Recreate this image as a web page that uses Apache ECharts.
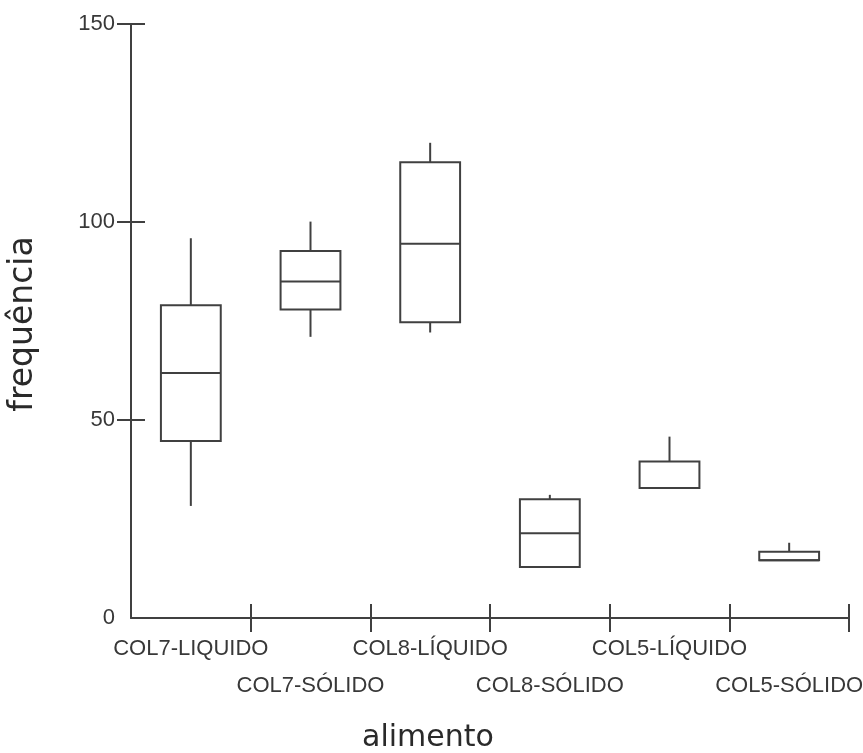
<!DOCTYPE html>
<html>
<head>
<meta charset="utf-8">
<title>frequência por alimento</title>
<script src="https://cdn.jsdelivr.net/npm/echarts@6/dist/echarts.min.js"></script>
<style>
  html, body { margin: 0; padding: 0; background: #ffffff; }
  #chart { width: 863px; height: 753px; }
</style>
</head>
<body>
<div id="chart"></div>
<script>
// Food types on the x axis
const categories = ['COL7-LIQUIDO', 'COL7-SÓLIDO', 'COL8-LÍQUIDO', 'COL8-SÓLIDO', 'COL5-LÍQUIDO', 'COL5-SÓLIDO'];

// Five-number summary of the frequency per food type
const minimum = [28.3, 71.0, 72.1, 12.9, 32.8, 14.6];
const lowerQuartile = [44.7, 77.9, 74.7, 12.9, 32.8, 14.6];
const median = [61.9, 85.0, 94.5, 21.4, 32.8, 14.6];
const upperQuartile = [79.0, 92.7, 115.1, 30.0, 39.5, 16.7];
const maximum = [95.9, 100.1, 120.0, 31.1, 45.8, 19.0];

// Value axis ticks
const yTickLabels = [0, 50, 100, 150];
const yTickMarks = [50, 100, 150];

const INK = '#404040';
const TEXT = '#383838';
const TITLE = '#2a2a2a';
const LABEL_FONT = 'Liberation Sans';
const TITLE_FONT = 'DejaVu Sans';

const boxData = categories.map((c, i) => [i, minimum[i], lowerQuartile[i], median[i], upperQuartile[i], maximum[i]]);

function renderBox(params, api) {
  const i = api.value(0);
  const pMin = api.coord([i, api.value(1)]);
  const pQ1 = api.coord([i, api.value(2)]);
  const pMed = api.coord([i, api.value(3)]);
  const pQ3 = api.coord([i, api.value(4)]);
  const pMax = api.coord([i, api.value(5)]);
  const half = api.size([1, 0])[0] * 0.25;
  const x = pMed[0];
  const lineStyle = { stroke: INK, lineWidth: 2, fill: null };
  const children = [];
  if (pMax[1] < pQ3[1]) {
    children.push({ type: 'line', shape: { x1: x, y1: pQ3[1], x2: x, y2: pMax[1] }, style: lineStyle });
  }
  if (pMin[1] > pQ1[1]) {
    children.push({ type: 'line', shape: { x1: x, y1: pQ1[1], x2: x, y2: pMin[1] }, style: lineStyle });
  }
  children.push({
    type: 'rect',
    shape: { x: x - half, y: pQ3[1], width: half * 2, height: pQ1[1] - pQ3[1] },
    style: { stroke: INK, lineWidth: 2, fill: '#ffffff' }
  });
  children.push({ type: 'line', shape: { x1: x - half, y1: pMed[1], x2: x + half, y2: pMed[1] }, style: lineStyle });
  return { type: 'group', children: children };
}

// Category axis ticks sit on the band boundaries, skipping the one at the origin
const skipFirst = (index) => index !== 0;

const chart = echarts.init(document.getElementById('chart'), null, { renderer: 'canvas' });
chart.setOption({
  backgroundColor: '#ffffff',
  animation: false,
  grid: { left: 131, right: 14, top: 24, bottom: 135, containLabel: false, outerBoundsMode: 'none' },
  xAxis: [
    {
      type: 'category',
      data: categories,
      position: 'bottom',
      boundaryGap: true,
      name: 'alimento',
      nameLocation: 'middle',
      nameGap: 105,
      nameTextStyle: { fontFamily: TITLE_FONT, fontSize: 30, color: TITLE, padding: [0, 124, 0, 0] },
      axisLine: { show: true, lineStyle: { color: INK, width: 2 } },
      axisTick: { show: true, inside: false, length: 14, interval: skipFirst, lineStyle: { color: INK, width: 2 } },
      axisLabel: {
        interval: 0,
        margin: 12,
        fontFamily: LABEL_FONT,
        fontSize: 22,
        lineHeight: 37,
        color: TEXT,
        formatter: (v, i) => (i % 2 === 1 ? '\n' + v : v)
      },
      splitLine: { show: false }
    },
    {
      type: 'category',
      data: categories,
      position: 'bottom',
      boundaryGap: true,
      axisLine: { show: false },
      axisTick: { show: true, inside: true, length: 14, interval: skipFirst, lineStyle: { color: INK, width: 2 } },
      axisLabel: { show: false },
      splitLine: { show: false }
    }
  ],
  yAxis: [
    {
      type: 'value',
      min: 0,
      max: 150,
      interval: 50,
      position: 'left',
      name: 'frequência',
      nameLocation: 'middle',
      nameGap: 91,
      nameTextStyle: { fontFamily: TITLE_FONT, fontSize: 33, color: TITLE, padding: [0, 6, 0, 0] },
      axisLine: { show: true, lineStyle: { color: INK, width: 2 } },
      axisTick: { show: true, inside: false, length: 14, customValues: yTickMarks, lineStyle: { color: INK, width: 2 } },
      axisLabel: { margin: 16, fontFamily: LABEL_FONT, fontSize: 22, color: TEXT, customValues: yTickLabels },
      splitLine: { show: false }
    },
    {
      type: 'value',
      min: 0,
      max: 150,
      interval: 50,
      position: 'left',
      axisLine: { show: false },
      axisTick: { show: true, inside: true, length: 14, customValues: yTickMarks, lineStyle: { color: INK, width: 2 } },
      axisLabel: { show: false },
      splitLine: { show: false }
    }
  ],
  series: [
    {
      type: 'custom',
      name: 'frequência',
      xAxisIndex: 0,
      yAxisIndex: 0,
      renderItem: renderBox,
      encode: { x: 0, y: [1, 2, 3, 4, 5] },
      data: boxData
    }
  ]
});
</script>
</body>
</html>
